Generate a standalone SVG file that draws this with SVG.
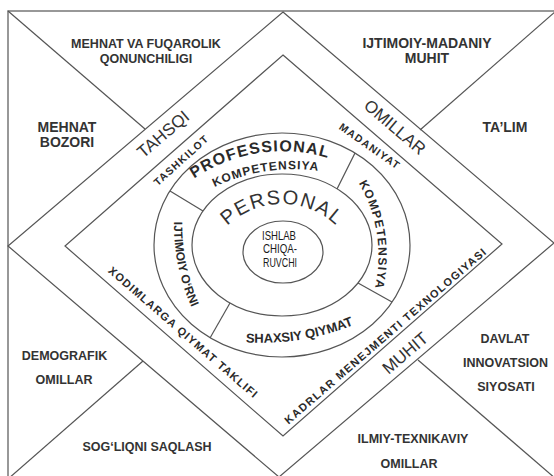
<svg xmlns="http://www.w3.org/2000/svg" width="554" height="476" viewBox="0 0 554 476">
<style>
.ln{fill:none;stroke:#555;stroke-width:1.2}
.cb{font-family:"Liberation Sans",Arial,sans-serif;font-weight:bold;fill:#333;text-anchor:middle}
.band{font-family:"Liberation Sans",Arial,sans-serif;font-weight:normal;fill:#333;text-anchor:middle;font-size:17px}
.rb{font-family:"Liberation Sans",Arial,sans-serif;font-weight:bold;fill:#2a2a2a;text-anchor:middle}
.ct{font-family:"Liberation Sans",Arial,sans-serif;font-size:13px;fill:#1a1a1a;text-anchor:middle}
</style>
<defs>
<path id="p-personal" d="M 203,283 A 79 79 0 0 1 361,283"/>
<path id="p-prof" d="M 192,180 A 157 157 0 0 1 331,159"/>
<path id="p-komp-top" d="M 209,190 A 180 180 0 0 1 325,172"/>
<path id="p-komp-right" d="M 357,180 A 145 145 0 0 1 374,292"/>
<path id="p-shax" d="M 241,342 A 246 246 0 0 0 358,323"/>
<path id="p-ijt" d="M 174,221 A 200 200 0 0 0 192,308"/>
</defs>
<rect width="554" height="476" fill="#fff"/>
<g id="frame">
<rect class="ln" x="8" y="11" width="548" height="468" style="stroke:#777;stroke-width:1.5"/>
</g>
<g id="connectors">
<line class="ln" x1="8" y1="11" x2="145" y2="129"/>
<line class="ln" x1="556" y1="11" x2="420" y2="130"/>
<line class="ln" x1="8" y1="479" x2="143" y2="361"/>
<line class="ln" x1="556" y1="479" x2="418" y2="360"/>
<line class="ln" x1="170" y1="191" x2="203" y2="211"/>
<line class="ln" x1="355" y1="153" x2="337" y2="189"/>
<line class="ln" x1="358" y1="283" x2="392" y2="302"/>
<line class="ln" x1="230" y1="303" x2="210" y2="338"/>
</g>
<g id="outer-diamond">
<polygon class="ln" points="283,12 554,243 279,477 8,246"/>
</g>
<g id="inner-diamond">
<polygon class="ln" points="283,55 502,244 283,436 65,246"/>
</g>
<g id="ring-outer"><ellipse class="ln" cx="282" cy="245" rx="128" ry="112"/></g>
<g id="ring-middle"><ellipse class="ln" cx="282" cy="245" rx="90" ry="71"/></g>
<g id="ring-inner"><ellipse class="ln" cx="283" cy="252" rx="40" ry="31"/></g>

<g id="corner-tl">
<text class="cb" x="146" y="47.5" font-size="12.5">MEHNAT VA FUQAROLIK</text>
<text class="cb" x="146" y="62.5" font-size="12.5">QONUNCHILIGI</text>
</g>
<g id="corner-tr">
<text class="cb" x="427" y="48" font-size="14">IJTIMOIY-MADANIY</text>
<text class="cb" x="427" y="63" font-size="14">MUHIT</text>
</g>
<g id="left-top"><text class="cb" x="67" y="132" font-size="14">MEHNAT</text><text class="cb" x="67" y="147" font-size="14">BOZORI</text></g>
<g id="right-top"><text class="cb" x="505" y="132" font-size="14">TA’LIM</text></g>
<g id="left-bottom"><text class="cb" x="64.5" y="359.5" font-size="12.5">DEMOGRAFIK</text><text class="cb" x="64" y="383.5" font-size="12.5">OMILLAR</text></g>
<g id="corner-bl"><text class="cb" x="147" y="450.5" font-size="12.5">SOG‘LIQNI SAQLASH</text></g>
<g id="right-bottom"><text class="cb" x="505" y="342.5" font-size="12.5">DAVLAT</text><text class="cb" x="505.5" y="366.5" font-size="12.5">INNOVATSION</text><text class="cb" x="506" y="390.5" font-size="12.5">SIYOSATI</text></g>
<g id="corner-br"><text class="cb" x="413" y="442.5" font-size="12.5">ILMIY-TEXNIKAVIY</text><text class="cb" x="409" y="467.5" font-size="12.5">OMILLAR</text></g>

<g id="band-tahsqi"><text class="band" transform="translate(163 134) rotate(-40.4)" y="6">TAHSQI</text></g>
<g id="band-omillar"><text class="band" transform="translate(395 127) rotate(40.5)" y="6">OMILLAR</text></g>
<g id="band-muhit"><text class="band" transform="translate(405 353) rotate(-40.4)" y="6">MUHIT</text></g>

<g id="tashkilot"><text class="rb" font-size="10.5" letter-spacing="1.2" transform="translate(181 160) rotate(-42)" y="4">TASHKILOT</text></g>
<g id="madaniyat"><text class="rb" font-size="10.5" letter-spacing="1.2" transform="translate(370 146) rotate(35)" y="4">MADANIYAT</text></g>
<g id="kadrlar"><text class="rb" font-size="11" transform="translate(385 336) rotate(-40.8)" y="4" textLength="262" lengthAdjust="spacing">KADRLAR MENEJMENTI TEXNOLOGIYASI</text></g>
<g id="xodimlarga"><text class="rb" font-size="11" transform="translate(183 332) rotate(41)" y="4" textLength="193" lengthAdjust="spacing">XODIMLARGA QIYMAT TAKLIFI</text></g>

<g id="professional">
<text class="rb" font-size="16" letter-spacing="1.2"><textPath href="#p-prof" startOffset="50%">PROFESSIONAL</textPath></text>
<text class="rb" font-size="12" letter-spacing="1"><textPath href="#p-komp-top" startOffset="50%">KOMPETENSIYA</textPath></text>
</g>
<g id="kompetensiya"><text class="rb" font-size="12" letter-spacing="1.2"><textPath href="#p-komp-right" startOffset="50%">KOMPETENSIYA</textPath></text></g>
<g id="shaxsiy"><text class="rb" font-size="13"><textPath href="#p-shax" startOffset="50%">SHAXSIY QIYMAT</textPath></text></g>
<g id="ijtimoiy"><text class="rb" font-size="12"><textPath href="#p-ijt" startOffset="50%">IJTIMOIY O‘RNI</textPath></text></g>
<g id="personal"><text font-family="Liberation Sans, Arial, sans-serif" font-size="20" fill="#333" text-anchor="middle" letter-spacing="1.5"><textPath href="#p-personal" startOffset="50%">PERSONAL</textPath></text></g>
<g id="center">
<text class="ct" x="279" y="239.5" textLength="34" lengthAdjust="spacingAndGlyphs">ISHLAB</text>
<text class="ct" x="280" y="253" textLength="34" lengthAdjust="spacingAndGlyphs">CHIQA-</text>
<text class="ct" x="280" y="266.5" textLength="34" lengthAdjust="spacingAndGlyphs">RUVCHI</text>
</g>
</svg>
